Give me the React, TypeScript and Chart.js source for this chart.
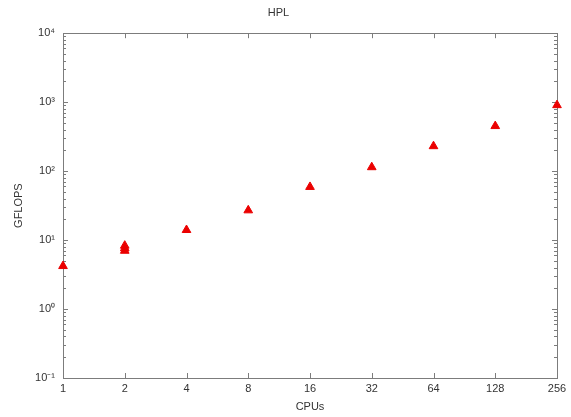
import React, { useEffect, useRef } from "react";
import { Chart, registerables } from "chart.js";

Chart.register(...registerables);

const cpus = [1, 2, 2, 2, 4, 8, 16, 32, 64, 128, 256];
const gflops = [4.2, 7.0, 7.6, 8.3, 14, 27, 59, 114, 230, 450, 905];
const xTicks = [1, 2, 4, 8, 16, 32, 64, 128, 256];
const yMajor = [0.1, 1, 10, 100, 1000, 10000];
const yLabels = ["10⁻¹", "10⁰", "10¹", "10²", "10³", "10⁴"];

const AXIS_COLOR = "#7c7c7c";
const TEXT_COLOR = "#333333";
const FONT = "'Liberation Sans', Arial, sans-serif";

function yTicksAll(): number[] {
  const out: number[] = [];
  for (let i = 0; i < yMajor.length; i++) {
    out.push(yMajor[i]);
    if (i < yMajor.length - 1) {
      for (let m = 2; m <= 9; m++) out.push(yMajor[i] * m);
    }
  }
  return out;
}

const boxPlugin = {
  id: "boxTicks",
  beforeDatasetsDraw(chart: any) {
    const { ctx, chartArea } = chart;
    const { left, right, top, bottom } = chartArea;
    const xs = chart.scales.x;
    const ys = chart.scales.y;
    ctx.save();
    ctx.strokeStyle = AXIS_COLOR;
    ctx.lineWidth = 1;
    ctx.strokeRect(Math.round(left) + 0.5, Math.round(top) + 0.5, Math.round(right - left), Math.round(bottom - top));
    ctx.beginPath();
    xTicks.forEach((v) => {
      const px = Math.round(xs.getPixelForValue(v)) + 0.5;
      ctx.moveTo(px, bottom);
      ctx.lineTo(px, bottom - 5);
      ctx.moveTo(px, top);
      ctx.lineTo(px, top + 5);
    });
    yTicksAll().forEach((v) => {
      const py = Math.round(ys.getPixelForValue(v)) + 0.5;
      const major = yMajor.some((m) => Math.abs(m - v) / m < 1e-6);
      const len = major ? 5 : 3;
      ctx.moveTo(left, py);
      ctx.lineTo(left + len, py);
      ctx.moveTo(right, py);
      ctx.lineTo(right - len, py);
    });
    ctx.stroke();
    ctx.restore();
  },
};

export default function App() {
  const ref = useRef<HTMLCanvasElement | null>(null);
  useEffect(() => {
    document.body.style.margin = "0";
    const canvas = ref.current;
    if (!canvas) return;
    const chart = new Chart(canvas, {
      type: "scatter",
      data: {
        datasets: [
          {
            label: "HPL",
            data: cpus.map((c, i) => ({ x: c, y: gflops[i] })),
            pointStyle: "triangle",
            pointRadius: 5,
            backgroundColor: "rgb(235,0,0)",
            borderColor: "rgb(235,0,0)",
            borderWidth: 1,
            clip: false,
          },
        ],
      },
      options: {
        responsive: false,
        animation: false,
        layout: { padding: { left: 0, right: 14, top: 0, bottom: 0 } },
        plugins: {
          legend: { display: false },
          tooltip: { enabled: false },
          title: {
            display: true,
            text: "HPL",
            color: TEXT_COLOR,
            font: { family: FONT, size: 11, weight: "normal" },
            padding: { top: 6, bottom: 14 },
          },
        },
        scales: {
          x: {
            type: "logarithmic",
            min: 1,
            max: 256,
            afterBuildTicks: (scale: any) => {
              scale.ticks = xTicks.map((v) => ({ value: v }));
            },
            afterFit: (scale: any) => {
              scale.height = 39;
            },
            ticks: {
              autoSkip: false,
              maxRotation: 0,
              padding: 4,
              color: TEXT_COLOR,
              font: { family: FONT, size: 11 },
              callback: (v: any) => String(v),
            },
            grid: { display: false, drawTicks: false },
            border: { display: false },
            title: {
              display: true,
              text: "CPUs",
              color: TEXT_COLOR,
              font: { family: FONT, size: 11 },
              padding: { top: 0, bottom: 3 },
            },
          },
          y: {
            type: "logarithmic",
            min: 0.1,
            max: 10000,
            afterBuildTicks: (scale: any) => {
              scale.ticks = yTicksAll().map((v) => ({ value: v }));
            },
            afterFit: (scale: any) => {
              scale.width = 63;
            },
            ticks: {
              autoSkip: false,
              padding: 8,
              color: TEXT_COLOR,
              font: { family: FONT, size: 11 },
              callback: (v: any) => {
                const idx = yMajor.findIndex((m) => Math.abs(m - v) / m < 1e-6);
                return idx >= 0 ? yLabels[idx] : "";
              },
            },
            grid: { display: false, drawTicks: false },
            border: { display: false },
            title: {
              display: true,
              text: "GFLOPS",
              color: TEXT_COLOR,
              font: { family: FONT, size: 11 },
              padding: { top: 12, bottom: 0 },
            },
          },
        },
      },
      plugins: [boxPlugin],
    } as any);
    return () => chart.destroy();
  }, []);
  return (
    <div style={{ width: 571, height: 417, background: "#fff" }}>
      <canvas ref={ref} width={571} height={417} style={{ display: "block" }} />
    </div>
  );
}
